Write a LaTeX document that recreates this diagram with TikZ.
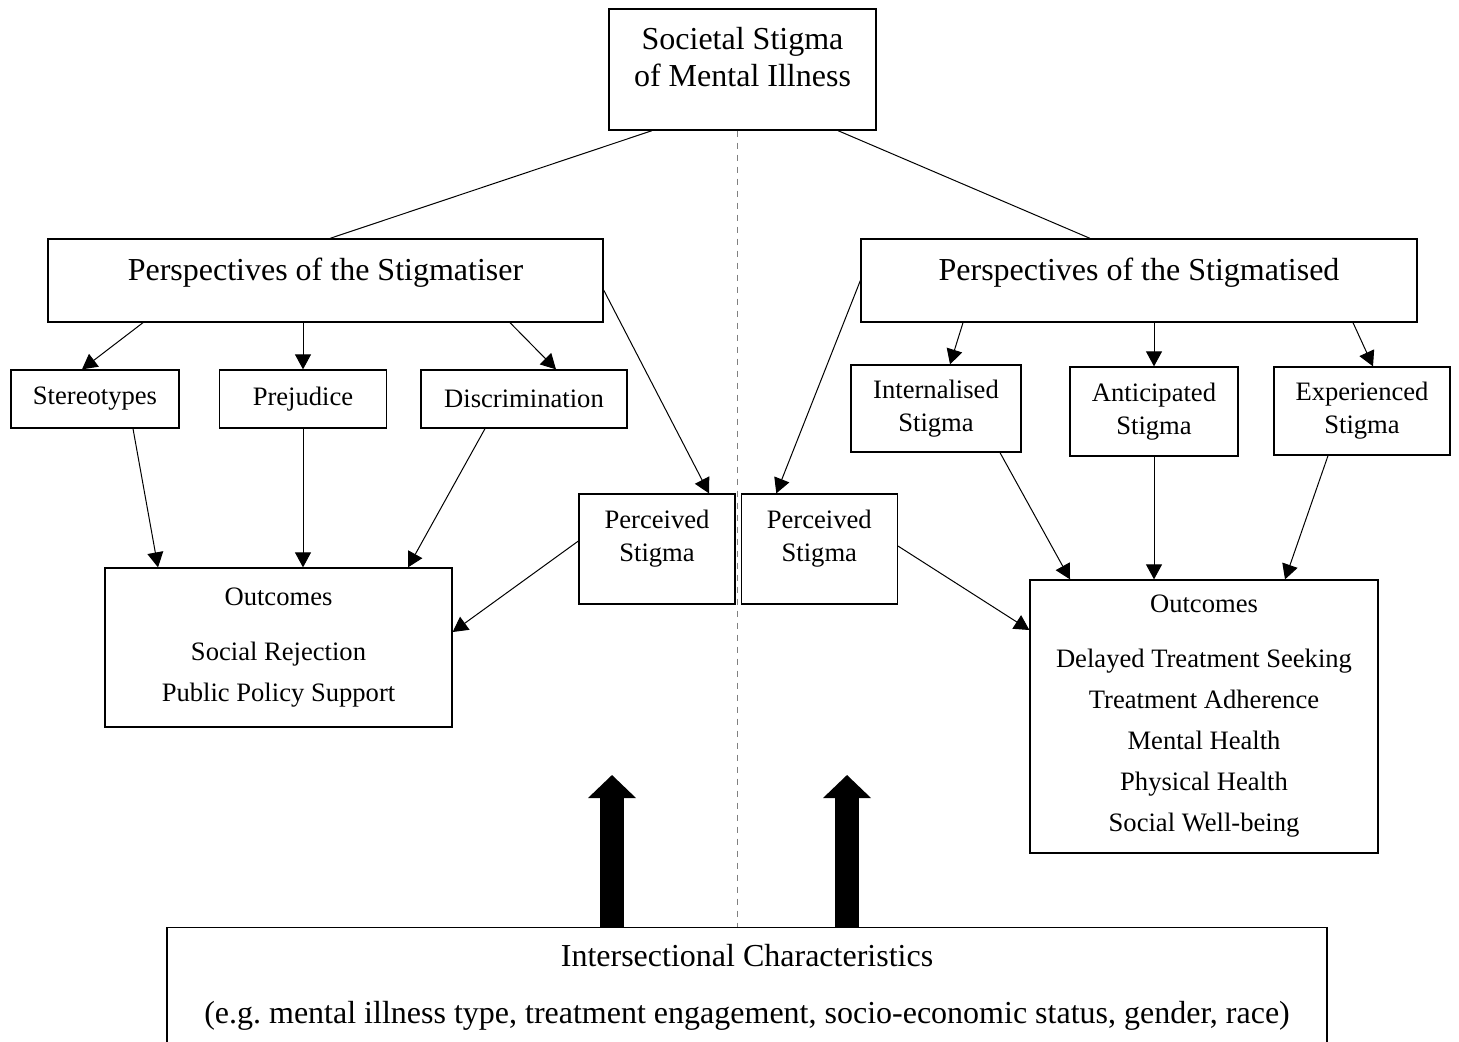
\documentclass[tikz,border=0pt]{standalone}
\usepackage{fontspec}
\setmainfont{Liberation Serif}
\usetikzlibrary{positioning, arrows.meta}
\newcommand{\bigtext}{\fontsize{16}{18.5}\selectfont}
\newcommand{\smalltext}{\fontsize{13.3}{16.5}\selectfont}

\begin{document}
\begin{tikzpicture}[x=0.5pt, y=-0.5pt, line width=0.5pt,
  box/.style={draw, line width=0.65pt, align=center, inner sep=0pt, font=\smalltext},
  bigbox/.style={box, font=\bigtext},
  link/.style={-{Triangle[length=7.5pt, width=8pt]}},
  fat/.style={line width=12pt, -{Triangle[length=11.5pt, width=24pt, line width=0pt]}},
  divider/.style={gray, dashed, line width=0.6pt}]
  \useasboundingbox (0,0) rectangle (1459,1041);

  % nodes
  \node [bigbox, minimum width=133.5pt, minimum height=60.5pt, text depth=13pt] (soc) at (742.5,69.5) {Societal Stigma\\of Mental Illness};

  \node [bigbox, minimum width=277.5pt, minimum height=41.5pt, text depth=11pt] (ser) at (325.5,280.5) {Perspectives of the Stigmatiser};
  \node [bigbox, minimum width=278pt, minimum height=41.5pt, text depth=11pt] (sed) at (1139,280.5) {Perspectives of the Stigmatised};

  \node [box, minimum width=84pt, minimum height=29pt] (stereo) at (95,399) {Stereotypes};
  \node [box, minimum width=83.5pt, minimum height=29pt] (prej) at (303,399) {Prejudice};
  \node [box, minimum width=103pt, minimum height=29pt] (discr) at (524,399) {Discrimination};

  \node [box, minimum width=85pt, minimum height=43.5pt] (intern) at (936,408.5) {Internalised\\Stigma};
  \node [box, minimum width=84pt, minimum height=44.5pt] (antic) at (1154,411.5) {Anticipated\\Stigma};
  \node [box, minimum width=88pt, minimum height=44pt] (exper) at (1362,411) {Experienced\\Stigma};

  \node [box, minimum width=78pt, minimum height=55pt, text depth=13pt] (percL) at (657,549) {Perceived\\Stigma};
  \node [box, minimum width=78pt, minimum height=55pt, text depth=13pt, right = 2.5pt of percL] (percR) {Perceived\\Stigma};

  \node [box, minimum width=173.5pt, minimum height=79.5pt] (outL) at (278.5,647.5) {Outcomes\\[11pt]Social Rejection\\[4pt]Public Policy Support};
  \node [box, minimum width=174pt, minimum height=136.5pt] (outR) at (1204,716.5) {Outcomes\\[11pt]Delayed Treatment Seeking\\[4pt]Treatment Adherence\\[4pt]Mental Health\\[4pt]Physical Health\\[4pt]Social Well-being};

  \node [bigbox, anchor=north, minimum width=580pt, inner ysep=8.5pt, text depth=40pt] (inter) at (747,927) {Intersectional Characteristics\\[10pt](e.g.\ mental illness type, treatment engagement, socio-economic status, gender, race)};

  \coordinate (mid) at (737.5,0);
  \coordinate (tipL) at (612,775);
  \coordinate (tipR) at (847,775);

  % edges
  \draw ([xshift=-45.25pt]soc.south) -- ([xshift=2.25pt]ser.north);
  \draw ([xshift=47.75pt]soc.south) -- ([xshift=-24.5pt]sed.north);

  \draw [link] ([xshift=-91.25pt]ser.south) -- ([xshift=-6.5pt]stereo.north);
  \draw [link] (ser.south -| prej.north) -- (prej.north);
  \draw [link] ([xshift=92.25pt]ser.south) -- ([xshift=16pt]discr.north);
  \draw [link] ([yshift=-4.75pt]ser.east) -- ([xshift=26pt]percL.north);

  \draw [link] (sed.west) -- ([xshift=-21.5pt]percR.north);
  \draw [link] ([xshift=-88pt]sed.south) -- ([xshift=7pt]intern.north);
  \draw [link] (sed.south -| antic.north) -- (antic.north);
  \draw [link] ([xshift=107pt]sed.south) -- ([xshift=5.5pt]exper.north);

  \draw [link] ([xshift=19pt]stereo.south) -- ([xshift=-60.25pt]outL.north);
  \draw [link] (prej.south) -- (prej.south |- outL.north);
  \draw [link] ([xshift=-19.5pt]discr.south) -- ([xshift=64.75pt]outL.north);
  \draw [link] ([yshift=4pt]percL.west) -- ([yshift=7.75pt]outL.east);

  \draw [link] ([yshift=1.5pt]percR.east) -- ([yshift=43.25pt]outR.west);
  \draw [link] ([xshift=32pt]intern.south) -- ([xshift=-67pt]outR.north);
  \draw [link] (antic.south) -- (antic.south |- outR.north);
  \draw [link] ([xshift=-17pt]exper.south) -- ([xshift=40.5pt]outR.north);

  % divider and intersectional arrows
  \draw [divider] (soc.south -| mid) -- (inter.north -| mid);
  \draw [fat] (inter.north -| tipL) -- (tipL);
  \draw [fat] (inter.north -| tipR) -- (tipR);
\end{tikzpicture}
\end{document}
